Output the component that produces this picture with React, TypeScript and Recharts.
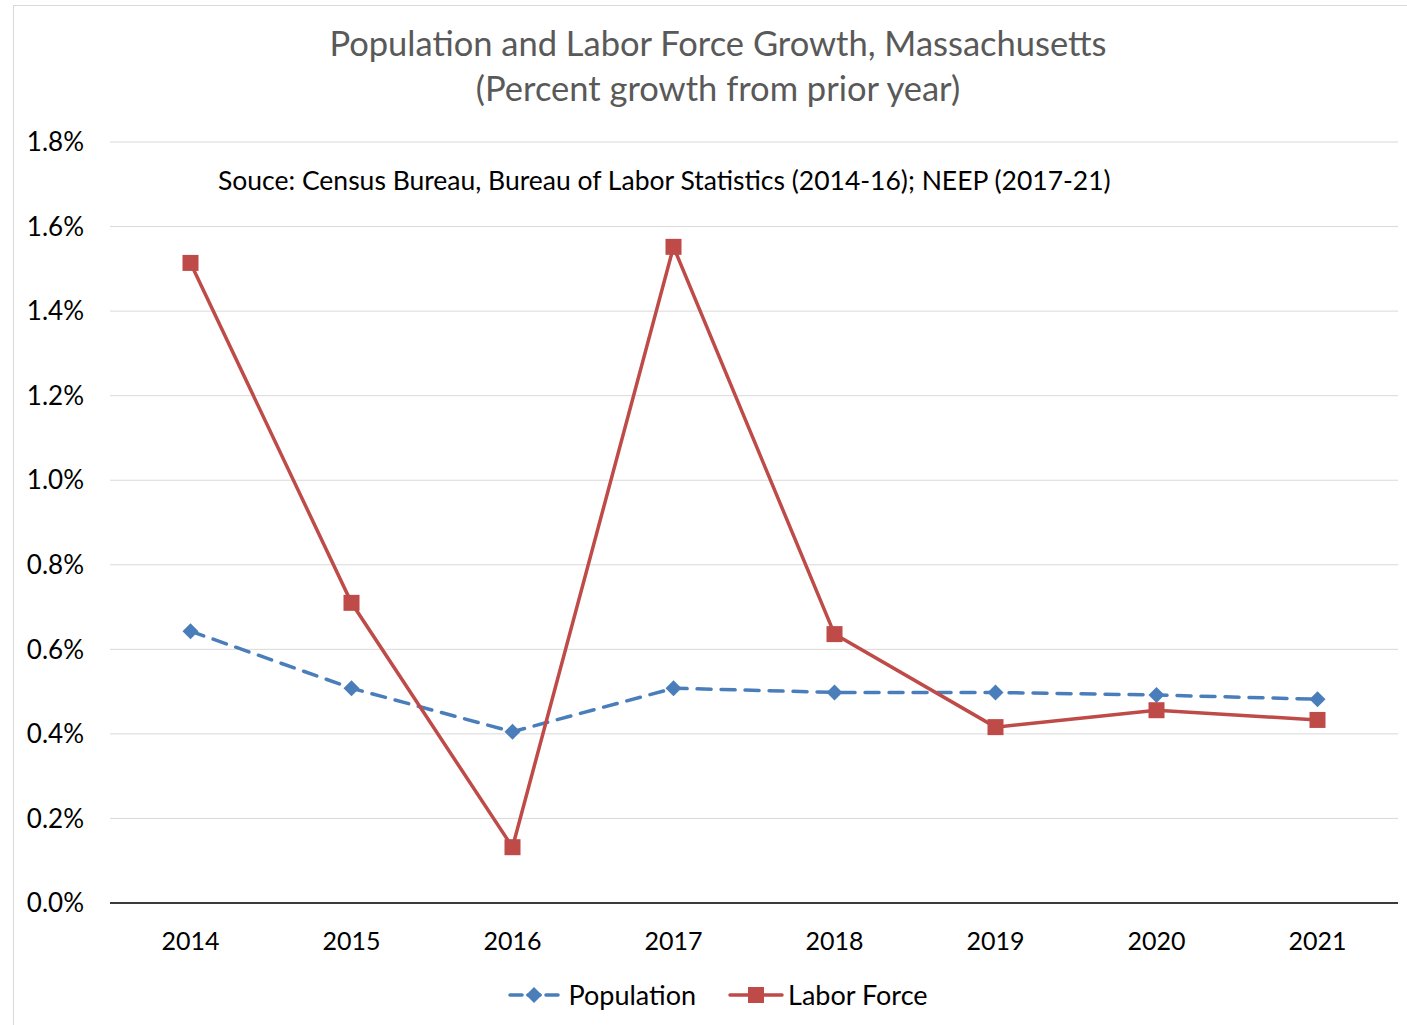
import { LineChart, Line, XAxis, YAxis, CartesianGrid, Legend } from 'recharts';

const FONT = 'Lato, "Open Sans", sans-serif';

const years = ['2014', '2015', '2016', '2017', '2018', '2019', '2020', '2021'];
const population = [0.643, 0.508, 0.405, 0.508, 0.498, 0.498, 0.492, 0.482];
const laborForce = [1.514, 0.71, 0.132, 1.552, 0.636, 0.416, 0.456, 0.433];
const yTicks = [0, 0.2, 0.4, 0.6, 0.8, 1.0, 1.2, 1.4, 1.6, 1.8];

const BLUE = '#4a7ebb';
const RED = '#be4b48';

const data = years.map((y, i) => ({ year: y, population: population[i], labor: laborForce[i] }));

const Diamond = (props: any) => {
  const { cx, cy, key } = props;
  if (cx == null || cy == null) return null;
  const r = 8;
  return <polygon key={key} points={`${cx},${cy - r} ${cx + r},${cy} ${cx},${cy + r} ${cx - r},${cy}`} fill={BLUE} />;
};

const Square = (props: any) => {
  const { cx, cy, key } = props;
  if (cx == null || cy == null) return null;
  const s = 16;
  return <rect key={key} x={cx - s / 2} y={cy - s / 2} width={s} height={s} fill={RED} />;
};

const LegendContent = () => (
  <div style={{ display: 'flex', justifyContent: 'center', alignItems: 'center', fontFamily: FONT, fontSize: 27, color: '#000' }}>
    <svg width={52} height={20} style={{ marginRight: 8 }}>
      <line x1={2} y1={10} x2={50} y2={10} stroke={BLUE} strokeWidth={3.5} strokeDasharray="12 6" strokeLinecap="round" />
      <polygon points="26,2 34,10 26,18 18,10" fill={BLUE} />
    </svg>
    <span style={{ marginRight: 32 }}>Population</span>
    <svg width={56} height={20} style={{ marginRight: 4 }}>
      <line x1={2} y1={10} x2={54} y2={10} stroke={RED} strokeWidth={3.5} strokeLinecap="round" />
      <rect x={20} y={2} width={16} height={16} fill={RED} />
    </svg>
    <span>Labor Force</span>
  </div>
);

export default function App() {
  return (
    <div style={{ position: 'absolute', left: 0, top: 0, width: 1407, height: 1025, background: '#fff', overflow: 'hidden' }}>
      <div style={{ position: 'absolute', left: 13, top: 5, width: 1420, height: 1040, border: '1px solid #d9d9d9' }} />
      <div style={{ position: 'absolute', left: 0, top: 20, width: 1436, textAlign: 'center', fontFamily: FONT, fontSize: 34.5, color: '#595959', lineHeight: '45px' }}>
        Population and Labor Force Growth, Massachusetts
        <br />
        (Percent growth from prior year)
      </div>
      <div style={{ position: 'absolute', left: 218, top: 164, fontFamily: FONT, fontSize: 26.5, color: '#000', whiteSpace: 'nowrap' }}>
        Souce: Census Bureau, Bureau of Labor Statistics (2014-16); NEEP (2017-21)
      </div>
      <LineChart width={1407} height={1025} data={data} margin={{ top: 142, right: 9, bottom: 82, left: 0 }} style={{ position: 'absolute', left: 0, top: 0 }}>
        <CartesianGrid vertical={false} stroke="#d9d9d9" strokeWidth={1} />
        <XAxis
          dataKey="year"
          height={40}
          padding={{ left: 80.5, right: 80.5 }}
          axisLine={{ stroke: '#000', strokeWidth: 1.5 }}
          tickLine={false}
          tickSize={0}
          tickMargin={29}
          tick={{ fontFamily: FONT, fontSize: 25, fill: '#000' }}
        />
        <YAxis
          width={110}
          domain={[0, 1.8]}
          ticks={yTicks}
          axisLine={false}
          tickLine={false}
          tickSize={0}
          tickMargin={26}
          tickFormatter={(v: number) => `${v.toFixed(1)}%`}
          tick={{ fontFamily: FONT, fontSize: 26, fill: '#000' }}
        />
        <Legend verticalAlign="middle" content={LegendContent} wrapperStyle={{ top: 978, left: 0, width: 1436 }} />
        <Line
          type="linear"
          dataKey="population"
          name="Population"
          stroke={BLUE}
          strokeWidth={3.5}
          strokeDasharray="14 10"
          strokeLinecap="round"
          dot={Diamond}
          activeDot={false}
          isAnimationActive={false}
        />
        <Line
          type="linear"
          dataKey="labor"
          name="Labor Force"
          stroke={RED}
          strokeWidth={3.5}
          dot={Square}
          activeDot={false}
          isAnimationActive={false}
        />
      </LineChart>
    </div>
  );
}
